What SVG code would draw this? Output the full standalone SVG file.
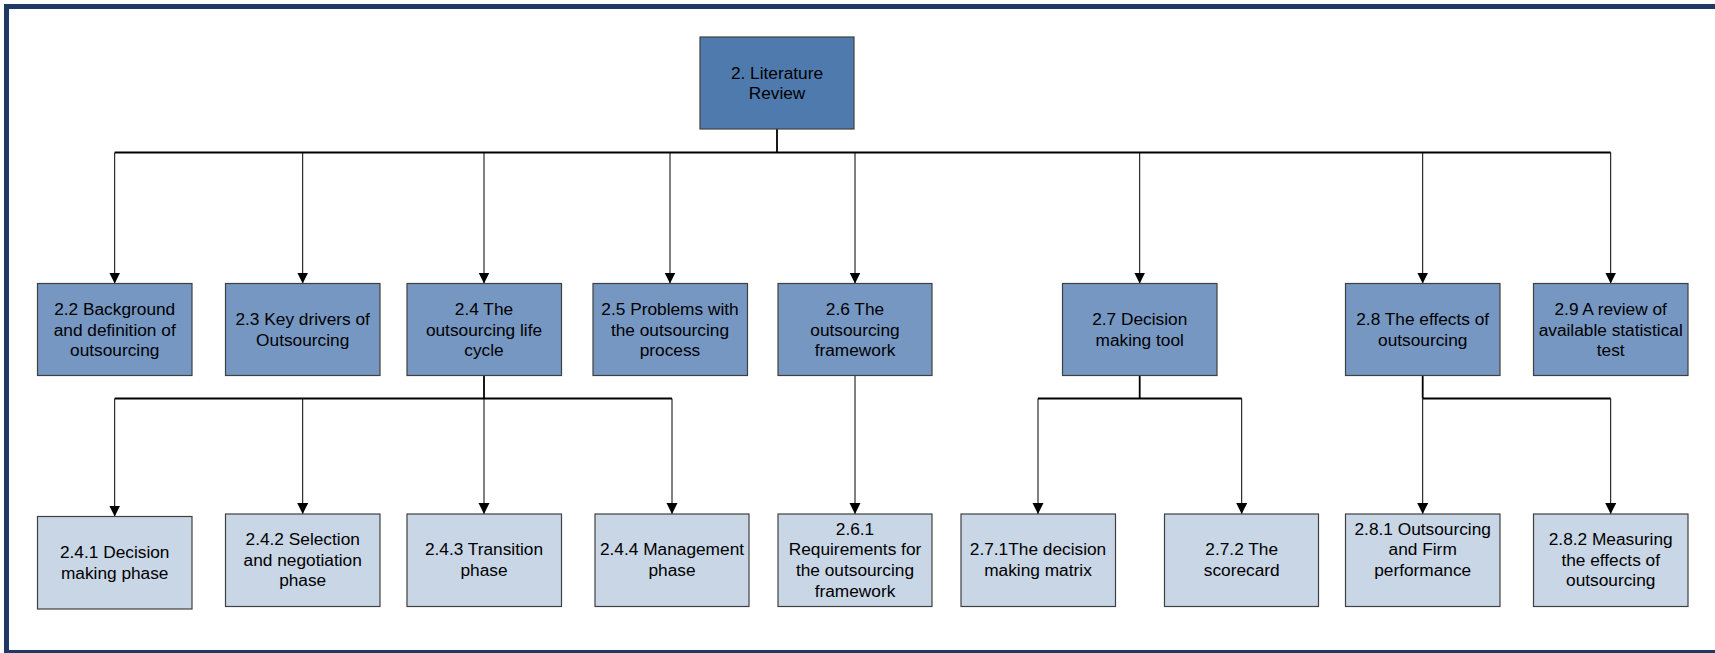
<svg xmlns="http://www.w3.org/2000/svg" width="1715" height="653" viewBox="0 0 1715 653">
<defs>
<marker id="arr" markerUnits="userSpaceOnUse" markerWidth="12" markerHeight="12" refX="11" refY="5.5" orient="auto">
<path d="M0,0 L11,5.5 L0,11 z" fill="#000"/>
</marker>
<style>
.root{fill:#4f7aae;stroke:#404040;stroke-width:1.2}
.l1{fill:#7597c2;stroke:#404040;stroke-width:1.2}
.l2{fill:#c8d6e6;stroke:#404040;stroke-width:1.2}
text{font-family:"Liberation Sans",Arial,sans-serif;font-size:17.3px;fill:#000;text-anchor:middle}
.bus{stroke:#000;stroke-width:1.8;fill:none}
.drop{stroke:#000;stroke-width:1;fill:none;marker-end:url(#arr)}
</style>
</defs>
<rect x="0" y="0" width="1715" height="653" fill="#fff"/>
<rect x="6.5" y="6.5" width="1730" height="646" fill="none" stroke="#1f3864" stroke-width="5"/>

<g id="connectors">
<line class="bus" x1="777" y1="129" x2="777" y2="152.5"/>
<line class="bus" x1="114.7" y1="152.5" x2="1610.7" y2="152.5"/>
<line class="drop" x1="114.7" y1="152.5" x2="114.7" y2="283.5"/>
<line class="drop" x1="302.7" y1="152.5" x2="302.7" y2="283.5"/>
<line class="drop" x1="484" y1="152.5" x2="484" y2="283.5"/>
<line class="drop" x1="670" y1="152.5" x2="670" y2="283.5"/>
<line class="drop" x1="855" y1="152.5" x2="855" y2="283.5"/>
<line class="drop" x1="1139.7" y1="152.5" x2="1139.7" y2="283.5"/>
<line class="drop" x1="1422.7" y1="152.5" x2="1422.7" y2="283.5"/>
<line class="drop" x1="1610.7" y1="152.5" x2="1610.7" y2="283.5"/>

<line class="bus" x1="484" y1="375.5" x2="484" y2="398.5"/>
<line class="bus" x1="114.7" y1="398.5" x2="672" y2="398.5"/>
<line class="drop" x1="114.7" y1="398.5" x2="114.7" y2="516.5"/>
<line class="drop" x1="302.7" y1="398.5" x2="302.7" y2="514"/>
<line class="drop" x1="484" y1="398.5" x2="484" y2="514"/>
<line class="drop" x1="672" y1="398.5" x2="672" y2="514"/>

<line class="drop" x1="855" y1="375.5" x2="855" y2="514"/>

<line class="bus" x1="1139.7" y1="375.5" x2="1139.7" y2="398.5"/>
<line class="bus" x1="1038" y1="398.5" x2="1241.7" y2="398.5"/>
<line class="drop" x1="1038" y1="398.5" x2="1038" y2="514"/>
<line class="drop" x1="1241.7" y1="398.5" x2="1241.7" y2="514"/>

<line class="bus" x1="1422.7" y1="375.5" x2="1422.7" y2="398.5"/>
<line class="bus" x1="1422.7" y1="398.5" x2="1610.7" y2="398.5"/>
<line class="drop" x1="1422.7" y1="398.5" x2="1422.7" y2="514"/>
<line class="drop" x1="1610.7" y1="398.5" x2="1610.7" y2="514"/>
</g>

<g id="n2">
<rect class="root" x="700" y="37" width="154" height="92"/>
<text x="777" y="78.5">2. Literature</text>
<text x="777" y="99.3">Review</text>
</g>

<g id="n22">
<rect class="l1" x="37.5" y="283.5" width="154.5" height="92"/>
<text x="114.7" y="315">2.2 Background</text>
<text x="114.7" y="335.7">and definition of</text>
<text x="114.7" y="356.4">outsourcing</text>
</g>
<g id="n23">
<rect class="l1" x="225.5" y="283.5" width="154.5" height="92"/>
<text x="302.7" y="325">2.3 Key drivers of</text>
<text x="302.7" y="345.7">Outsourcing</text>
</g>
<g id="n24">
<rect class="l1" x="407" y="283.5" width="154.5" height="92"/>
<text x="484" y="315">2.4 The</text>
<text x="484" y="335.7">outsourcing life</text>
<text x="484" y="356.4">cycle</text>
</g>
<g id="n25">
<rect class="l1" x="593" y="283.5" width="154.5" height="92"/>
<text x="670" y="315">2.5 Problems with</text>
<text x="670" y="335.7">the outsourcing</text>
<text x="670" y="356.4">process</text>
</g>
<g id="n26">
<rect class="l1" x="778" y="283.5" width="154" height="92"/>
<text x="855" y="315">2.6 The</text>
<text x="855" y="335.7">outsourcing</text>
<text x="855" y="356.4">framework</text>
</g>
<g id="n27">
<rect class="l1" x="1062.5" y="283.5" width="154.5" height="92"/>
<text x="1139.7" y="325">2.7 Decision</text>
<text x="1139.7" y="345.7">making tool</text>
</g>
<g id="n28">
<rect class="l1" x="1345.5" y="283.5" width="154.5" height="92"/>
<text x="1422.7" y="325">2.8 The effects of</text>
<text x="1422.7" y="345.7">outsourcing</text>
</g>
<g id="n29">
<rect class="l1" x="1533.5" y="283.5" width="154.5" height="92"/>
<text x="1610.7" y="315">2.9 A review of</text>
<text x="1610.7" y="335.7">available statistical</text>
<text x="1610.7" y="356.4">test</text>
</g>

<g id="n241">
<rect class="l2" x="37.5" y="516.5" width="154.5" height="92.5"/>
<text x="114.7" y="558">2.4.1 Decision</text>
<text x="114.7" y="578.7">making phase</text>
</g>
<g id="n242">
<rect class="l2" x="225.5" y="514" width="154.5" height="92.5"/>
<text x="302.7" y="545">2.4.2 Selection</text>
<text x="302.7" y="565.7">and negotiation</text>
<text x="302.7" y="586.4">phase</text>
</g>
<g id="n243">
<rect class="l2" x="407" y="514" width="154.5" height="92.5"/>
<text x="484" y="555">2.4.3 Transition</text>
<text x="484" y="575.7">phase</text>
</g>
<g id="n244">
<rect class="l2" x="595" y="514" width="154" height="92.5"/>
<text x="672" y="555">2.4.4 Management</text>
<text x="672" y="575.7">phase</text>
</g>
<g id="n261">
<rect class="l2" x="778" y="514" width="154" height="92.5"/>
<text x="855" y="534.5">2.6.1</text>
<text x="855" y="555.2">Requirements for</text>
<text x="855" y="575.9">the outsourcing</text>
<text x="855" y="596.6">framework</text>
</g>
<g id="n271">
<rect class="l2" x="961" y="514" width="154.5" height="92.5"/>
<text x="1038" y="555">2.7.1The decision</text>
<text x="1038" y="575.7">making matrix</text>
</g>
<g id="n272">
<rect class="l2" x="1164.5" y="514" width="154" height="92.5"/>
<text x="1241.7" y="555">2.7.2 The</text>
<text x="1241.7" y="575.7">scorecard</text>
</g>
<g id="n281">
<rect class="l2" x="1345.5" y="514" width="154.5" height="92.5"/>
<text x="1422.7" y="534.5">2.8.1 Outsourcing</text>
<text x="1422.7" y="555.2">and Firm</text>
<text x="1422.7" y="575.9">performance</text>
</g>
<g id="n282">
<rect class="l2" x="1533.5" y="514" width="154.5" height="92.5"/>
<text x="1610.7" y="545">2.8.2 Measuring</text>
<text x="1610.7" y="565.7">the effects of</text>
<text x="1610.7" y="586.4">outsourcing</text>
</g>
</svg>
